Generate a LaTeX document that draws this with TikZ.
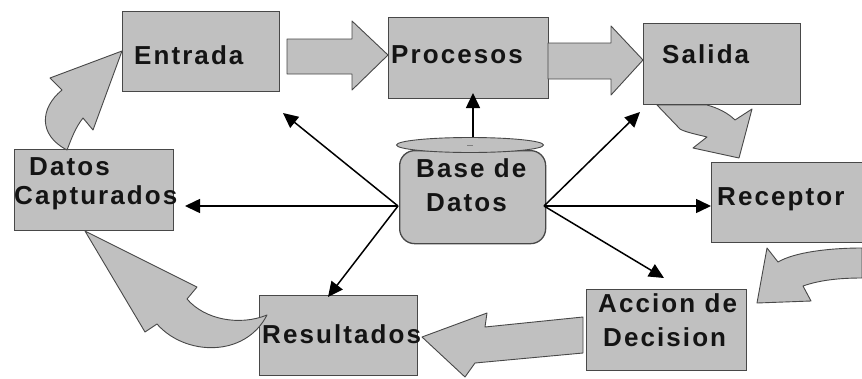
\documentclass[tikz,border=0pt]{standalone}
\usepackage{fontspec}
\newfontfamily\lblfont[LetterSpace=8]{Liberation Sans Bold}
\usetikzlibrary{arrows.meta,shapes.geometric}
\definecolor{boxfill}{RGB}{192,192,192}
\definecolor{boxline}{RGB}{72,72,72}
\definecolor{inkcol}{RGB}{20,20,20}
\begin{document}
\begin{tikzpicture}[x=1pt,y=-1pt,
  box/.style={draw=boxline, fill=boxfill, line width=1.3pt, inner sep=0pt, anchor=north west},
  lbl/.style={anchor=base west, inner sep=0pt, text=inkcol,
              font=\lblfont\fontsize{26}{31}\selectfont},
  bigarrow/.style={fill=boxfill, draw=boxline, line width=0.9pt, line join=round},
  link/.style={draw=black, line width=1.5pt,
               -{Triangle[length=15pt,width=14pt]}, shorten >=0pt}
]
% page
\fill[white] (0,0) rectangle (862,378);
\useasboundingbox (0,0) rectangle (862,378);

% ---- boxes ----
\node[box, minimum width=157pt, minimum height=80pt] (entrada)    at (122,11)  {};
\node[box, minimum width=160pt, minimum height=81pt] (procesos)   at (388,17)  {};
\node[box, minimum width=157pt, minimum height=81pt] (salida)     at (643,23)  {};
\node[box, minimum width=159pt, minimum height=81pt] (datoscap)   at (14,149)  {};
\node[box, minimum width=160pt, minimum height=80pt] (receptor)   at (711,162) {};
\node[box, minimum width=160pt, minimum height=81pt] (accion)     at (586,289) {};
\node[box, minimum width=158pt, minimum height=80pt] (resultados) at (259,295) {};

% ---- database ----
\node[box, rounded corners=15pt, minimum width=146pt, minimum height=93pt] (base) at (399,150) {};
\node[ellipse, draw=boxline, fill=boxfill, line width=0.9pt, inner sep=0pt,
      minimum width=147pt, minimum height=15pt] (baselid) at (470,145) {};
\draw[boxline!70, line width=1pt] ([xshift=-3pt]baselid.center) -- ([xshift=3pt]baselid.center);

% ---- block arrows of the cycle ----
% Entrada -> Procesos
\path[bigarrow] (287,39) -- (352,39) -- (352,21) -- (388,55) -- (352,90) -- (352,74) -- (287,74) -- cycle;
% Procesos -> Salida
\path[bigarrow] (548,43) -- (611,43) -- (611,26) -- (643,60) -- (611,95) -- (611,79) -- (548,79) -- cycle;
% Salida -> Receptor
\path[bigarrow] (657,105) -- (707,105) .. controls (718,108) and (728,113) .. (735,120)
  -- (752,109) -- (739,158) -- (693,148) -- (707,137)
  .. controls (695,134) and (685,132) .. (680,129) -- cycle;
% Receptor -> Accion de Decision
\path[bigarrow] (862,248) .. controls (830,248) and (795,252) .. (778,262)
  -- (767,248) -- (757,303) -- (811,301) -- (803,286)
  .. controls (820,280) and (840,278) .. (862,278) -- cycle;
% Accion de Decision -> Resultados
\path[bigarrow] (583,317) -- (583,353) -- (475,363) -- (465,377) -- (422,337)
  -- (487,313) -- (485,327) -- cycle;
% Resultados -> Datos Capturados
\path[bigarrow] (267,315) .. controls (240,326) and (205,320) .. (187,299)
  -- (197,287) -- (85,231) -- (145,332) -- (157,324)
  .. controls (185,356) and (245,358) .. (267,315) -- cycle;
% Datos Capturados -> Entrada
\path[bigarrow] (67,150) .. controls (38,135) and (40,108) .. (62,90)
  -- (50,78) -- (122,51) -- (93,130) -- (83,118)
  .. controls (75,128) and (71,140) .. (67,150) -- cycle;

% ---- labels ----
\node[lbl] (t-entrada)   at (134,64)  {Entrada};
\node[lbl] (t-procesos)  at (391,63)  {Procesos};
\node[lbl] (t-salida)    at (662,63)  {Salida};
\node[lbl] (t-datos)     at (29,175)  {Datos};
\node[lbl] (t-capt)      at (14,204)  {Capturados};
\node[lbl] (t-base1)     at (416,177) {Base de};
\node[lbl] (t-base2)     at (426,211) {Datos};
\node[lbl] (t-receptor)  at (717,205) {Receptor};
\node[lbl] (t-accion1)   at (598,312) {Accion de};
\node[lbl] (t-accion2)   at (603,346) {Decision};
\node[lbl] (t-result)    at (262,343) {Resultados};

% ---- links from the database ----
\coordinate (base-l) at (398,206);
\coordinate (base-r) at (544,206);
\coordinate (end-entrada)  at (283,113);
\coordinate (end-datoscap) at (185,206);
\coordinate (end-result)   at (328,297);
\coordinate (end-salida)   at (640,112);
\coordinate (end-receptor) at (711,206);
\coordinate (end-accion)   at (664,278);
\coordinate (end-procesos) at (473,93);

\draw[link] (baselid.north -| end-procesos) -- (end-procesos);
\draw[link] (base-l) -- (end-entrada);
\draw[link] (base-l) -- (end-datoscap);
\draw[link] (base-l) -- (end-result);
\draw[link] (base-r) -- (end-salida);
\draw[link] (base-r) -- (end-receptor);
\draw[link] (base-r) -- (end-accion);
\end{tikzpicture}
\end{document}
